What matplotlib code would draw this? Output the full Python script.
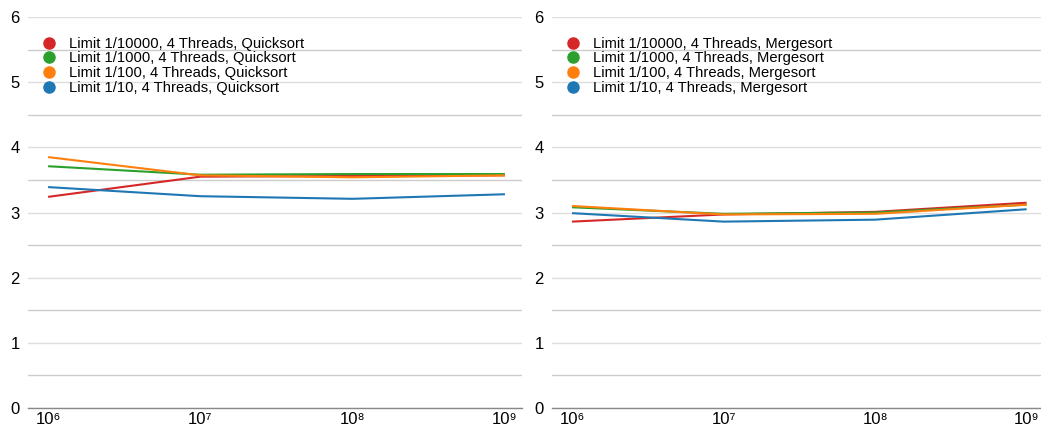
import matplotlib
matplotlib.use("Agg")
import matplotlib.pyplot as plt
from matplotlib.ticker import FixedLocator, MultipleLocator
from matplotlib.lines import Line2D

plt.rcParams['font.family'] = ['Liberation Sans', 'DejaVu Sans']

sizes = [1e6, 1e7, 1e8, 1e9]
x_tick_labels = ['10\u2076', '10\u2077', '10\u2078', '10\u2079']
limits = ['1/10000', '1/1000', '1/100', '1/10']
colors = ['#d62728', '#2ca02c', '#ff7f0e', '#1f77b4']

quick_10000 = [3.24, 3.55, 3.56, 3.57]
quick_1000 = [3.71, 3.58, 3.59, 3.59]
quick_100 = [3.85, 3.57, 3.54, 3.57]
quick_10 = [3.39, 3.25, 3.21, 3.28]

merge_10000 = [2.86, 2.97, 3.01, 3.15]
merge_1000 = [3.08, 2.98, 3.00, 3.12]
merge_100 = [3.10, 2.97, 2.98, 3.12]
merge_10 = [2.99, 2.86, 2.89, 3.05]

quick = [quick_10000, quick_1000, quick_100, quick_10]
merge = [merge_10000, merge_1000, merge_100, merge_10]

W, H = 1041, 428
fig = plt.figure(figsize=(W / 100, H / 100), dpi=100)

def make_ax(x0, x1, series, algo, xmax_exp):
    ax = fig.add_axes([x0 / W, (H - 408) / H, (x1 - x0) / W, (408 - 17) / H])
    ax.set_xscale('log')
    for vals, c in zip(series, colors):
        ax.plot(sizes, vals, color=c, lw=1.5, solid_capstyle='butt')
    ax.set_ylim(0, 6)
    ax.set_xlim(10 ** 5.868, 10 ** xmax_exp)
    ax.xaxis.set_major_locator(FixedLocator(sizes))
    ax.xaxis.set_minor_locator(FixedLocator([]))
    ax.set_xticklabels(x_tick_labels)
    ax.yaxis.set_major_locator(MultipleLocator(1))
    ax.yaxis.set_minor_locator(MultipleLocator(0.5))
    ax.grid(True, which='major', axis='y', color='#dedede', lw=1)
    ax.grid(True, which='minor', axis='y', color='#cccccc', lw=1)
    ax.set_axisbelow(True)
    for s in ['top', 'right', 'left']:
        ax.spines[s].set_visible(False)
    ax.spines['bottom'].set_color('#888888')
    ax.spines['bottom'].set_linewidth(1)
    ax.tick_params(axis='both', which='both', length=0, labelsize=12, colors='#000000')
    ax.tick_params(axis='x', pad=3)
    ax.tick_params(axis='y', pad=6)
    handles = [Line2D([], [], marker='o', linestyle='none', color=c, markersize=8)
               for c in colors]
    labels = [f'Limit {l}, 4 Threads, {algo}' for l in limits]
    ax.legend(handles, labels, loc='upper left', bbox_to_anchor=(0.0, 0.976),
              frameon=False, fontsize=10.6, labelspacing=0.05, handletextpad=0.6,
              handlelength=1.5, borderaxespad=0.3)
    return ax

make_ax(28, 522, quick, 'Quicksort', 9.112)
make_ax(552, 1041, merge, 'Mergesort', 9.095)

fig.savefig('out.png', dpi=100)
